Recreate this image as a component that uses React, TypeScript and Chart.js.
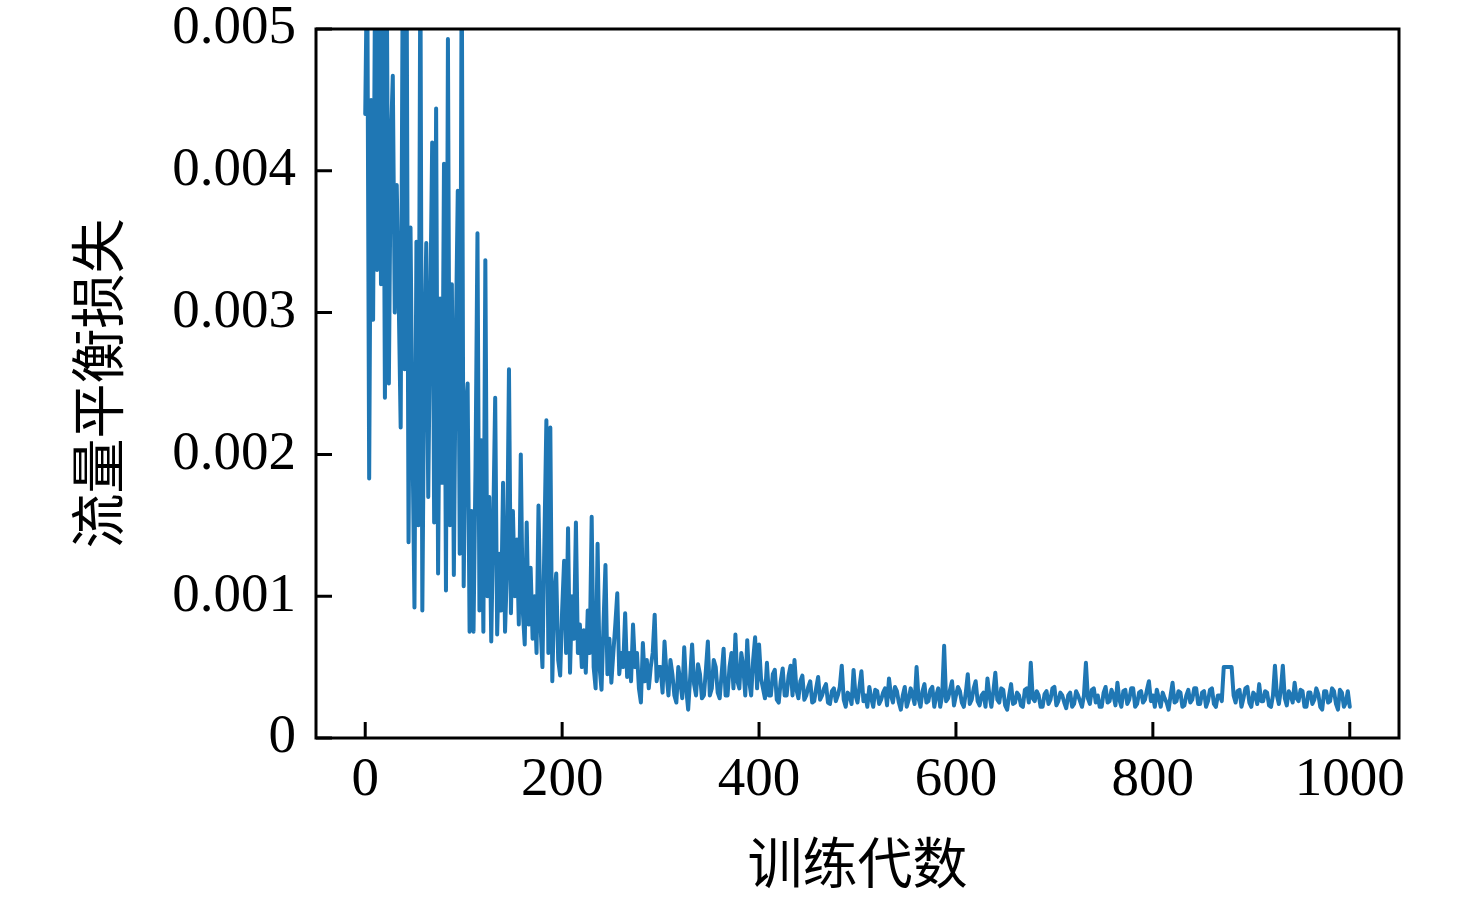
import React, { useEffect, useRef } from 'react';
import { Chart, registerables } from 'chart.js';

Chart.register(...registerables);

// flow-balance loss, in units of 1e-3
// epochs 0..298, one value every 2 epochs
const EARLY_START = 0;
const EARLY_STEP = 2;
const earlyLoss = [
  4.4, 5.6, 1.83, 4.5, 2.95, 5.4, 3.3, 5.8, 3.2, 5.5,
  2.4, 5.2, 2.5, 4.2, 4.67, 3.0, 3.9, 3.1, 2.19, 5.3,
  2.6, 5.5, 1.38, 3.6, 2.1, 0.92, 3.5, 1.5, 5.6, 0.9,
  2.7, 3.49, 1.7, 3.0, 4.2, 1.52, 4.44, 1.16, 3.1, 1.8,
  4.05, 1.04, 4.93, 1.5, 3.2, 1.15, 2.8, 3.86, 1.3, 5.6,
  1.07, 2.3, 2.5, 0.75, 1.6, 0.75, 1.9, 3.56, 0.9, 2.1,
  0.75, 3.37, 1.0, 1.7, 0.68, 1.5, 2.4, 0.73, 1.3, 0.9,
  1.8, 0.75, 1.2, 2.6, 0.88, 1.6, 1.0, 1.4, 0.8, 2.0,
  0.9, 0.66, 1.52, 0.8, 1.2, 0.7, 1.0, 0.6, 1.64, 0.8,
  0.5, 1.4, 2.24, 0.6, 2.19, 0.4, 1.0, 1.16, 0.55, 0.44,
  0.9, 1.25, 0.6, 1.48, 0.46, 1.0, 0.7, 1.52, 0.6, 0.8,
  0.5, 0.76, 0.46, 0.9, 0.6, 1.56, 0.5, 0.35, 1.37, 0.5,
  0.34, 0.8, 1.22, 0.45, 0.7, 0.39, 0.6, 0.8, 1.02, 0.45,
  0.6, 0.5, 0.88, 0.43, 0.6, 0.4, 0.8, 0.5, 0.6, 0.35,
  0.25, 0.67, 0.4, 0.55, 0.35, 0.5, 0.6, 0.87, 0.4, 0.5,
];

// epochs 300..1000, one value every 2 epochs
const LATE_START = 300;
const LATE_STEP = 2;
const lateLoss = [
  0.5, 0.32, 0.68, 0.45, 0.3, 0.55, 0.45, 0.3, 0.25, 0.5, 0.4, 0.28, 0.64, 0.35, 0.2, 0.42, 0.66, 0.38, 0.3, 0.52,
  0.45, 0.28, 0.3, 0.48, 0.68, 0.3, 0.35, 0.55, 0.5, 0.32, 0.28, 0.45, 0.63, 0.3, 0.3, 0.5, 0.6, 0.35, 0.73, 0.4,
  0.35, 0.6, 0.5, 0.3, 0.69, 0.4, 0.3, 0.55, 0.71, 0.35, 0.66, 0.42, 0.35, 0.28, 0.53, 0.3, 0.3, 0.45, 0.48, 0.27,
  0.25, 0.4, 0.49, 0.3, 0.3, 0.44, 0.51, 0.3, 0.55, 0.34, 0.28, 0.4, 0.44, 0.27, 0.3, 0.36, 0.4, 0.25, 0.26, 0.35,
  0.43, 0.27, 0.3, 0.35, 0.38, 0.25, 0.24, 0.33, 0.35, 0.26, 0.3, 0.36, 0.51, 0.27, 0.22, 0.32, 0.3, 0.24, 0.48, 0.3,
  0.25, 0.36, 0.47, 0.26, 0.3, 0.22, 0.36, 0.28, 0.22, 0.34, 0.33, 0.24, 0.27, 0.32, 0.35, 0.23, 0.42, 0.3, 0.25, 0.36,
  0.33, 0.25, 0.2, 0.3, 0.36, 0.22, 0.27, 0.35, 0.3, 0.24, 0.5, 0.28, 0.22, 0.33, 0.38, 0.25, 0.26, 0.34, 0.36, 0.22,
  0.3, 0.35, 0.22, 0.3, 0.65, 0.26, 0.28, 0.34, 0.4, 0.23, 0.3, 0.36, 0.33, 0.25, 0.22, 0.32, 0.45, 0.24, 0.27, 0.35,
  0.4, 0.26, 0.23, 0.3, 0.32, 0.22, 0.42, 0.3, 0.22, 0.33, 0.46, 0.27, 0.25, 0.35, 0.34, 0.23, 0.2, 0.3, 0.38, 0.24,
  0.25, 0.32, 0.3, 0.23, 0.22, 0.34, 0.35, 0.25, 0.53, 0.28, 0.26, 0.33, 0.3, 0.22, 0.22, 0.31, 0.33, 0.24, 0.27, 0.35,
  0.36, 0.23, 0.26, 0.32, 0.3, 0.25, 0.21, 0.3, 0.32, 0.22, 0.24, 0.33, 0.3, 0.26, 0.22, 0.3, 0.53, 0.28, 0.24, 0.34,
  0.35, 0.25, 0.3, 0.22, 0.22, 0.32, 0.36, 0.25, 0.26, 0.34, 0.3, 0.23, 0.39, 0.27, 0.22, 0.33, 0.34, 0.24, 0.27, 0.35,
  0.35, 0.22, 0.24, 0.32, 0.33, 0.25, 0.27, 0.34, 0.4, 0.26, 0.3, 0.22, 0.34, 0.28, 0.22, 0.32, 0.28, 0.25, 0.2, 0.3,
  0.39, 0.25, 0.26, 0.33, 0.32, 0.22, 0.23, 0.3, 0.34, 0.25, 0.27, 0.35, 0.35, 0.24, 0.24, 0.32, 0.33, 0.22, 0.26, 0.34,
  0.35, 0.24, 0.22, 0.3, 0.3, 0.26, 0.5, 0.5, 0.5, 0.5, 0.5, 0.3, 0.25, 0.33, 0.34, 0.22, 0.28, 0.35, 0.36, 0.25,
  0.22, 0.32, 0.3, 0.24, 0.38, 0.26, 0.26, 0.33, 0.32, 0.23, 0.22, 0.3, 0.51, 0.3, 0.24, 0.34, 0.51, 0.28, 0.23, 0.33,
  0.3, 0.25, 0.39, 0.28, 0.26, 0.34, 0.33, 0.22, 0.22, 0.32, 0.32, 0.24, 0.27, 0.35, 0.31, 0.22, 0.2, 0.33, 0.33, 0.25,
  0.26, 0.35, 0.33, 0.24, 0.2, 0.34, 0.32, 0.22, 0.25, 0.33, 0.22,
];

const xTicks = [0, 200, 400, 600, 800, 1000];
const yTicks = [0, 0.001, 0.002, 0.003, 0.004, 0.005];
const xTitle = '训练代数';
const yTitle = '流量平衡损失';

const serif = '"Liberation Serif", "Times New Roman", serif';
const cjk = '"Noto Sans CJK SC", sans-serif';

// box around the plot + inward tick marks, like matplotlib
const frameTicks = {
  id: 'frameTicks',
  afterDatasetsDraw(chart: any) {
    const { ctx, chartArea: a, scales } = chart;
    ctx.save();
    ctx.strokeStyle = '#000';
    ctx.lineWidth = 3;
    ctx.beginPath();
    for (const v of xTicks) {
      const px = scales.x.getPixelForValue(v);
      ctx.moveTo(px, a.bottom);
      ctx.lineTo(px, a.bottom - 16);
    }
    for (const v of yTicks) {
      const py = scales.y.getPixelForValue(v);
      ctx.moveTo(a.left, py);
      ctx.lineTo(a.left + 16, py);
    }
    ctx.stroke();
    ctx.strokeRect(a.left, a.top, a.right - a.left, a.bottom - a.top);
    ctx.restore();
  },
};

export default function App() {
  const canvasRef = useRef<HTMLCanvasElement>(null);

  useEffect(() => {
    if (!canvasRef.current) return;

    const points = [
      ...earlyLoss.map((v, i) => ({ x: EARLY_START + i * EARLY_STEP, y: v / 1000 })),
      ...lateLoss.map((v, i) => ({ x: LATE_START + i * LATE_STEP, y: v / 1000 })),
    ];

    const chart = new Chart(canvasRef.current, {
      type: 'line',
      data: {
        datasets: [
          {
            data: points,
            borderColor: '#1f77b4',
            borderWidth: 4,
            pointRadius: 0,
            tension: 0,
            borderJoinStyle: 'round',
            borderCapStyle: 'round',
            clip: 0,
          },
        ],
      },
      options: {
        animation: false,
        responsive: true,
        maintainAspectRatio: false,
        layout: { padding: { top: 29, right: 77, left: 0, bottom: 0 }, autoPadding: false },
        plugins: { legend: { display: false }, tooltip: { enabled: false } },
        scales: {
          x: {
            type: 'linear',
            min: -50,
            max: 1050,
            grid: { display: false },
            border: { display: false },
            afterBuildTicks: (s: any) => {
              s.ticks = xTicks.map((value) => ({ value }));
            },
            afterFit: (s: any) => {
              s.height = 159;
              s.paddingLeft = 0;
              s.paddingRight = 0;
            },
            ticks: {
              color: '#000',
              padding: 2,
              maxRotation: 0,
              font: { family: serif, size: 55 },
              callback: (v: any) => String(v),
            },
            title: {
              display: true,
              text: xTitle,
              color: '#000',
              font: { family: cjk, size: 55 },
              padding: { bottom: 2 },
            },
          },
          y: {
            type: 'linear',
            min: 0,
            max: 0.005,
            grid: { display: false },
            border: { display: false },
            afterBuildTicks: (s: any) => {
              s.ticks = yTicks.map((value) => ({ value }));
            },
            afterFit: (s: any) => {
              s.width = 316;
              s.paddingTop = 0;
              s.paddingBottom = 0;
            },
            ticks: {
              color: '#000',
              padding: 12,
              font: { family: serif, size: 55 },
              callback: (v: any) => (v === 0 ? '0' : Number(v).toFixed(3)),
            },
            title: {
              display: true,
              text: yTitle,
              color: '#000',
              font: { family: cjk, size: 55 },
              padding: { top: 64 },
            },
          },
        },
      },
      plugins: [frameTicks],
    } as any);

    return () => chart.destroy();
  }, []);

  return (
    <div style={{ position: 'fixed', left: 0, top: 0, width: 1476, height: 897, background: '#fff' }}>
      <canvas ref={canvasRef} />
    </div>
  );
}
